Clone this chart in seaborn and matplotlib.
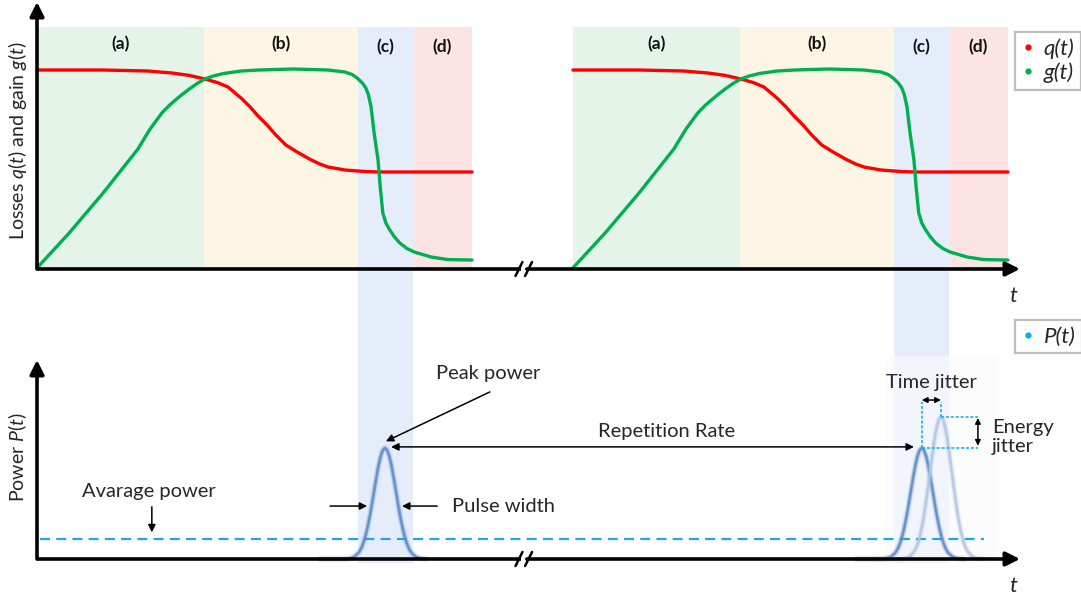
import numpy as np
import matplotlib
matplotlib.use("Agg")
import matplotlib.pyplot as plt
from matplotlib.lines import Line2D
from matplotlib.patches import Rectangle
import seaborn as sns

sns.set_style("white")
plt.rcParams["font.family"] = ["Lato", "DejaVu Sans"]
plt.rcParams["mathtext.fontset"] = "custom"
plt.rcParams["mathtext.rm"] = "Lato"
plt.rcParams["mathtext.it"] = "Lato:italic"

# ---------------- data ----------------
# one gain/loss cycle, time in arbitrary units (0..10), levels normalised to 1
loss_t = [0.0, 1.50, 2.55, 3.10, 3.50, 3.86, 4.15, 4.39, 4.69, 4.90, 5.06, 5.29,
          5.49, 5.72, 5.98, 6.28, 6.50, 6.69, 7.08, 7.50, 7.86, 10.0]
loss_q = [0.995, 0.995, 0.99, 0.98, 0.968, 0.95, 0.932, 0.91, 0.855, 0.81,
          0.77, 0.72, 0.67, 0.62, 0.585, 0.548, 0.525, 0.51, 0.495, 0.488,
          0.485, 0.485]

gain_t = [0.0, 0.74, 1.52, 2.32, 2.60, 2.87, 3.05, 3.20, 3.35, 3.52, 3.70, 3.86,
          4.05, 4.30, 4.70, 5.10, 5.89, 6.69, 7.08, 7.25, 7.36, 7.48, 7.56, 7.62,
          7.68, 7.75, 7.84, 7.89, 7.95, 8.02, 8.11, 8.22, 8.34, 8.50, 8.67, 9.06,
          9.45, 10.0]
gain_g = [0.005, 0.18, 0.38, 0.60, 0.70, 0.78, 0.82, 0.848, 0.875, 0.903, 0.93,
          0.95, 0.965, 0.978, 0.99, 0.995, 1.0, 0.995, 0.985, 0.972, 0.955,
          0.93, 0.905, 0.87, 0.81, 0.68, 0.545, 0.41, 0.28, 0.23, 0.195, 0.16,
          0.13, 0.103, 0.085, 0.06, 0.047, 0.045]

region_labels = ["(a)", "(b)", "(c)", "(d)"]
region_edges = [0.0, 3.84, 7.38, 8.64, 10.0]
cycle_starts = [0.0, 12.32]

# normalised pulse profile (offset from pulse centre, relative power)
pulse_offset = [-1.5, -0.9, -0.8, -0.7, -0.6, -0.55, -0.5, -0.45, -0.4, -0.35, -0.3,
                -0.25, -0.2, -0.15, -0.1, -0.05, 0.0, 0.05, 0.1, 0.15, 0.2, 0.25,
                0.3, 0.35, 0.4, 0.45, 0.5, 0.55, 0.6, 0.7, 0.8, 0.95]
pulse_level = [0.0, 0.0, 0.007, 0.022, 0.06, 0.094, 0.142, 0.205, 0.287, 0.384,
               0.495, 0.614, 0.73, 0.839, 0.925, 0.98, 1.0, 0.98, 0.925, 0.839,
               0.73, 0.614, 0.495, 0.384, 0.287, 0.205, 0.142, 0.094, 0.06,
               0.022, 0.007, 0.0]
pulse_centers = [8.0, 20.34, 20.78]
pulse_peaks = [1.0, 1.0, 1.28]
average_power = 0.18

# ---------------- style ----------------
RED = "#ff0000"
GREEN = "#00b050"
REGION_COLORS = ["#e4f4e9", "#fef6e5", "#e5edfb", "#fde4e4"]
PULSE_COLORS = ["#5b8ac6", "#5b8ac6", "#b2c6e2"]
CYAN = "#1ea6e8"
DOT = "#00b0f0"
FS = 14.5

W, H = 1081, 600
X0, XS = 37.0, 43.5          # pixel of t=0 and pixels per time unit

fig = plt.figure(figsize=(W / 100, H / 100), dpi=100)


def panel(top_px, bottom_px, zero_px, scale):
    ax = fig.add_axes([0, 1 - bottom_px / H, 1, (bottom_px - top_px) / H])
    ax.set_xlim(-X0 / XS, (W - X0) / XS)
    ax.set_ylim((zero_px - bottom_px) / scale, (zero_px - top_px) / scale)
    ax.axis("off")
    ax.patch.set_alpha(0)
    return ax


ax_top = panel(0, 300, 269, 200.0)
ax_bot = panel(300, 600, 559, 111.0)

T_TIP = (1020 - X0) / XS
BREAK = (11.08, 11.30)


def axes_arrows(ax, y_tip, slash_dy):
    kw = dict(arrowstyle="-|>", color="black", lw=2.6, mutation_scale=21,
              shrinkA=0, shrinkB=0)
    ax.annotate("", xy=(0, y_tip), xytext=(0, 0), arrowprops=kw, zorder=6)
    ax.plot([0, BREAK[0] + 0.04], [0, 0], color="black", lw=2.6,
            solid_capstyle="butt", zorder=6)
    ax.annotate("", xy=(T_TIP, 0), xytext=(BREAK[1] - 0.04, 0), arrowprops=kw,
                zorder=6)
    for bx in BREAK:
        ax.plot([bx - 0.08, bx + 0.08], [-slash_dy, slash_dy], color="black",
                lw=1.8, zorder=7)


# ---------------- top panel: losses and gain ----------------
band_top = (269 - 27) / 200.0
col_bottom = (269 - 563) / 200.0
for start in cycle_starts:
    for i, (lab, col) in enumerate(zip(region_labels, REGION_COLORS)):
        lo, hi = region_edges[i] + start, region_edges[i + 1] + start
        bottom = col_bottom if lab == "(c)" else 0.0
        poly = ax_top.fill_between([lo, hi], bottom, band_top, color=col, lw=0,
                                   zorder=0)
        if lab == "(c)":
            poly.set_clip_on(False)
        ax_top.text((lo + hi) / 2, 1.125 if i < 2 else 1.11, lab, ha="center",
                    va="center", fontsize=12.5, fontweight="bold",
                    color="#111111")
    sns.lineplot(x=np.array(loss_t) + start, y=loss_q, color=RED, lw=2.4,
                 ax=ax_top, sort=False, estimator=None, legend=False, zorder=3)
    sns.lineplot(x=np.array(gain_t) + start, y=gain_g, color=GREEN, lw=2.4,
                 ax=ax_top, sort=False, estimator=None, legend=False, zorder=3)

axes_arrows(ax_top, (269 - 2) / 200.0, 0.035)
ax_top.text(-0.44, 0.64, "Losses $q(t)$ and gain $g(t)$", rotation=90,
            ha="center", va="center", fontsize=14)
ax_top.text(22.44, -0.135, "t", style="italic", ha="center", va="center",
            fontsize=16)

top_handles = [Line2D([], [], ls="", marker="o", ms=3.5, color=RED),
               Line2D([], [], ls="", marker="o", ms=3.5, color=GREEN)]
leg = ax_top.legend(top_handles, ["q(t)", "g(t)"], loc="upper left",
                    bbox_to_anchor=(1015 / W, 1 - 32 / H),
                    bbox_transform=fig.transFigure, prop={"style": "italic",
                                                          "size": 16},
                    frameon=True, fancybox=False, framealpha=1,
                    edgecolor="#bfbfbf", handlelength=0.6, handletextpad=0.4,
                    borderpad=0.3, labelspacing=0.15, borderaxespad=0)
leg.get_frame().set_linewidth(1.6)

# ---------------- bottom panel: output power ----------------
ax_bot.add_patch(Rectangle((19.49, -0.036), 2.58, 1.865, facecolor="#fbfbfb",
                           alpha=0.6, lw=0, zorder=1))
sns.lineplot(x=[0.07, 21.77], y=[average_power, average_power], color=CYAN,
             lw=1.6, linestyle=(0, (4.5, 2.8)), ax=ax_bot, legend=False, zorder=2)

for c, p, col in zip(pulse_centers, pulse_peaks, PULSE_COLORS):
    xs = np.array(pulse_offset) + c
    ys = np.array(pulse_level) * p
    for lw, a in [(5.0, 0.08), (3.6, 0.18), (2.4, 0.5), (1.4, 0.8)]:
        ax_bot.plot(xs, ys, color=col, lw=lw, alpha=a, zorder=4,
                    solid_capstyle="round")

axes_arrows(ax_bot, (559 - 360) / 111.0, 0.063)

thin = dict(arrowstyle="-|>", color="black", lw=1.1, mutation_scale=11,
            shrinkA=0, shrinkB=0)
both = dict(arrowstyle="<|-|>", color="black", lw=1.1, mutation_scale=11,
            shrinkA=0, shrinkB=0)

ax_bot.text(2.57, 0.61, "Avarage power", ha="center", va="center", fontsize=FS)
ax_bot.annotate("", xy=(2.64, 0.24), xytext=(2.64, 0.47), arrowprops=thin)

ax_bot.text(10.37, 1.667, "Peak power", ha="center", va="center", fontsize=FS)
ax_bot.annotate("", xy=(8.02, 1.06), xytext=(10.41, 1.505), arrowprops=thin)

ax_bot.annotate("", xy=(8.14, 1.01), xytext=(20.16, 1.01), arrowprops=both)
ax_bot.text(14.48, 1.153, "Repetition Rate", ha="center", va="center",
            fontsize=FS)

ax_bot.annotate("", xy=(7.59, 0.477), xytext=(6.74, 0.477), arrowprops=thin)
ax_bot.annotate("", xy=(8.39, 0.477), xytext=(9.2, 0.477), arrowprops=thin)
ax_bot.text(9.54, 0.477, "Pulse width", ha="left", va="center", fontsize=FS)

# jitter guides
dot = dict(color=DOT, lw=1.1, linestyle=(0, (2, 1.2)), zorder=5)
ax_bot.plot([20.34, 20.34], [1.0, 1.414], **dot)
ax_bot.plot([20.78, 20.78], [1.28, 1.414], **dot)
ax_bot.plot([20.78, 21.63], [1.28, 1.28], **dot)
ax_bot.plot([20.34, 21.63], [1.0, 1.0], **dot)
small = dict(arrowstyle="<|-|>", color="black", lw=1.1, mutation_scale=8,
             shrinkA=0, shrinkB=0)
ax_bot.annotate("", xy=(20.34, 1.432), xytext=(20.78, 1.432), arrowprops=small)
ax_bot.annotate("", xy=(21.63, 1.27), xytext=(21.63, 1.02), arrowprops=small)
ax_bot.text(20.57, 1.586, "Time jitter", ha="center", va="center", fontsize=FS)
ax_bot.text(21.95, 1.10, "Energy\njitter", ha="left", va="center", fontsize=FS,
            linespacing=1.2)

ax_bot.text(-0.44, 0.919, "Power $P(t)$", rotation=90, ha="center", va="center",
            fontsize=14)
ax_bot.text(22.44, -0.243, "t", style="italic", ha="center", va="center",
            fontsize=16)

bot_handles = [Line2D([], [], ls="", marker="o", ms=3.5, color=DOT)]
leg2 = ax_bot.legend(bot_handles, ["P(t)"], loc="upper left",
                     bbox_to_anchor=(1015 / W, 1 - 320 / H),
                     bbox_transform=fig.transFigure,
                     prop={"style": "italic", "size": 16}, frameon=True,
                     fancybox=False, framealpha=1, edgecolor="#bfbfbf",
                     handlelength=0.6, handletextpad=0.4, borderpad=0.3,
                     borderaxespad=0)
leg2.get_frame().set_linewidth(1.6)

fig.savefig("out.png", dpi=100)
